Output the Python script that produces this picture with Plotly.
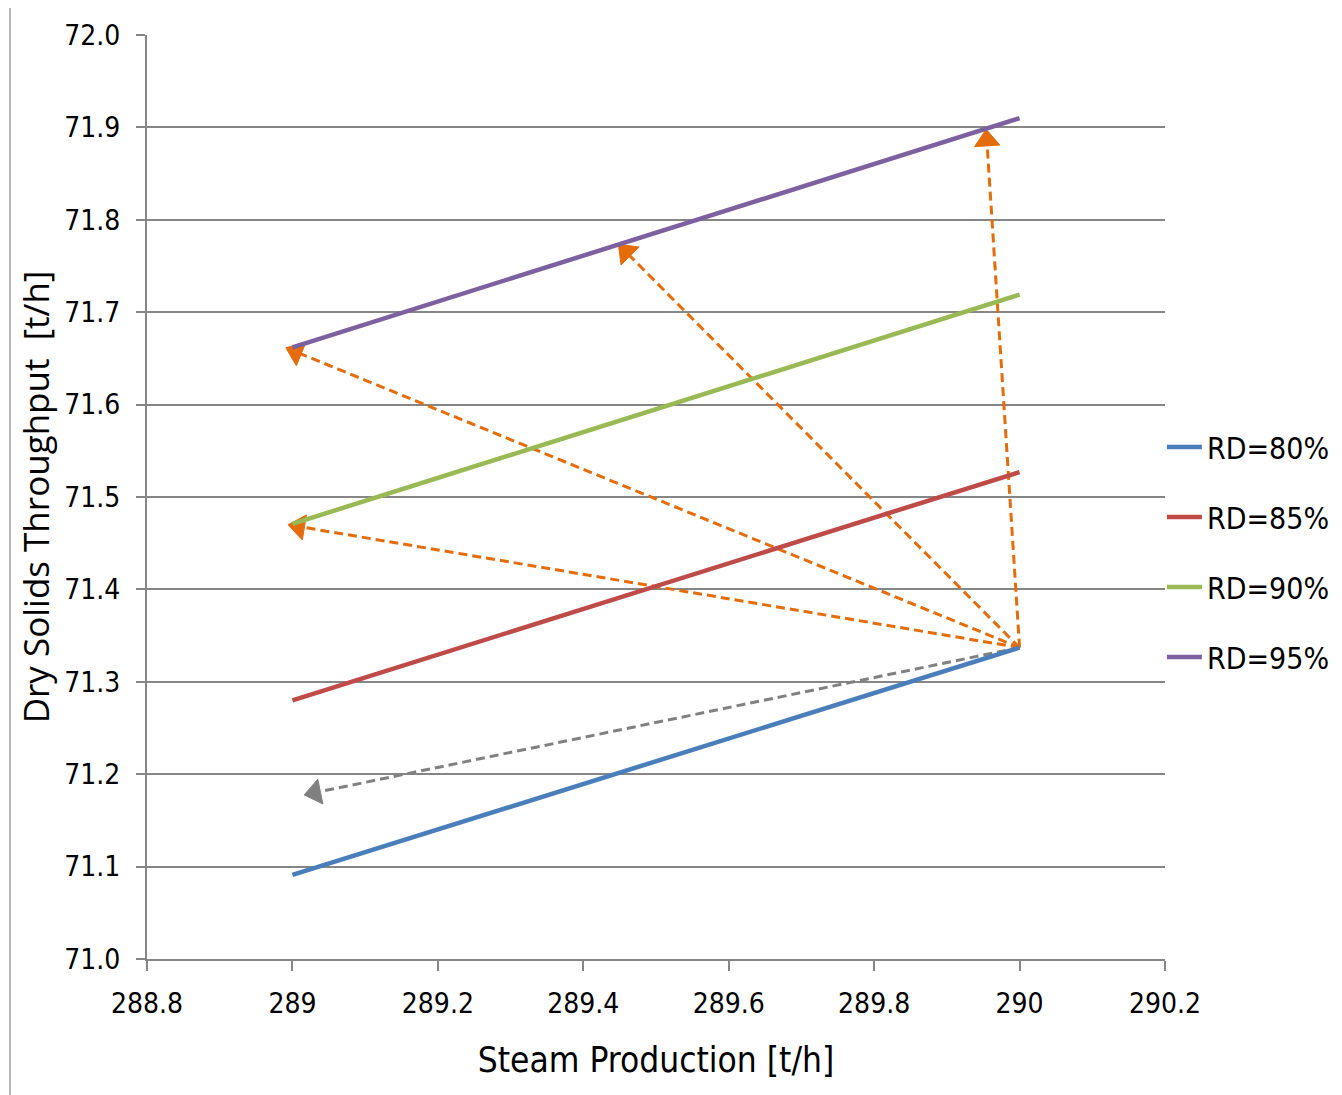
import plotly.graph_objects as go

# Data
steam = [289, 290]
series_names = ["RD=80%", "RD=85%", "RD=90%", "RD=95%"]
rd80 = [71.091, 71.337]
rd85 = [71.280, 71.527]
rd90 = [71.471, 71.719]
rd95 = [71.662, 71.910]
series_values = [rd80, rd85, rd90, rd95]
series_colors = ["#4A7EBB", "#BE4B48", "#98B954", "#7D60A0"]

# arrows: common origin, head points
arrow_origin = (290.0, 71.337)
orange_heads_x = [289.955, 289.459, 289.005, 289.009]
orange_heads_y = [71.886, 71.765, 71.657, 71.468]
gray_head_x = [289.031]
gray_head_y = [71.180]

x_ticks = [288.8, 289, 289.2, 289.4, 289.6, 289.8, 290, 290.2]
y_ticks = [71.0, 71.1, 71.2, 71.3, 71.4, 71.5, 71.6, 71.7, 71.8, 71.9, 72.0]

NARROW = "Liberation Sans Narrow, DejaVu Sans Condensed, Arial Narrow, sans-serif"

fig = go.Figure()

def add_arrow(hx, hy, color):
    fig.add_trace(go.Scatter(
        x=[arrow_origin[0], hx], y=[arrow_origin[1], hy],
        mode="lines+markers",
        line=dict(color=color, width=3, dash="9px,5px"),
        marker=dict(symbol="triangle-up", size=[0, 22], color=color, opacity=1,
                    angleref="previous", line=dict(width=1, color=color)),
        showlegend=False, hoverinfo="skip"))

for hx, hy in zip(orange_heads_x, orange_heads_y):
    add_arrow(hx, hy, "#E46C0A")
for hx, hy in zip(gray_head_x, gray_head_y):
    add_arrow(hx, hy, "#808080")

for i, (name, vals, col) in enumerate(zip(series_names, series_values, series_colors)):
    fig.add_trace(go.Scatter(
        x=steam, y=vals, mode="lines", name=name,
        line=dict(color=col, width=4.5), legendgroup=name))

fig.add_shape(type="rect", xref="paper", yref="paper",
              x0=-0.1346, x1=1.2, y0=-0.2, y1=1.0303,
              line=dict(color="#A0A0A0", width=1.5), layer="below")

fig.update_layout(
    width=1334, height=1087,
    margin=dict(l=139, r=177, t=27, b=136, autoexpand=False),
    paper_bgcolor="white", plot_bgcolor="white",
    font=dict(family=NARROW, color="black"),
    showlegend=True,
    legend=dict(xref="container", yref="container",
                x=0.865, xanchor="left", y=0.4995, yanchor="middle",
                font=dict(family=NARROW, size=30, color="black"),
                tracegroupgap=28, itemwidth=35, traceorder="grouped",
                bgcolor="rgba(0,0,0,0)"),
    xaxis=dict(range=[288.8, 290.2], tickvals=x_ticks,
               ticktext=[("%g" % v) for v in x_ticks],
               showgrid=False, zeroline=False, automargin=False,
               showline=True, linecolor="#868686", linewidth=2,
               ticks="outside", ticklen=10, tickcolor="#868686", tickwidth=2,
               ticklabelstandoff=8,
               tickfont=dict(family=NARROW, size=28),
               title=dict(text="Steam Production [t/h]",
                          font=dict(family=NARROW, size=35), standoff=29)),
    yaxis=dict(range=[71.0, 72.0], tickvals=y_ticks, tickformat=".1f",
               showgrid=True, gridcolor="#868686", gridwidth=1.5,
               zeroline=False, automargin=False,
               showline=True, linecolor="#868686", linewidth=2,
               ticks="outside", ticklen=9, tickcolor="#868686", tickwidth=2,
               ticklabelstandoff=10,
               tickfont=dict(family=NARROW, size=28),
               title=dict(text="Dry Solids Throughput  [t/h]",
                          font=dict(family="Open Sans, DejaVu Sans, sans-serif", size=35),
                          standoff=4)),
)

fig.write_html("out.html")
